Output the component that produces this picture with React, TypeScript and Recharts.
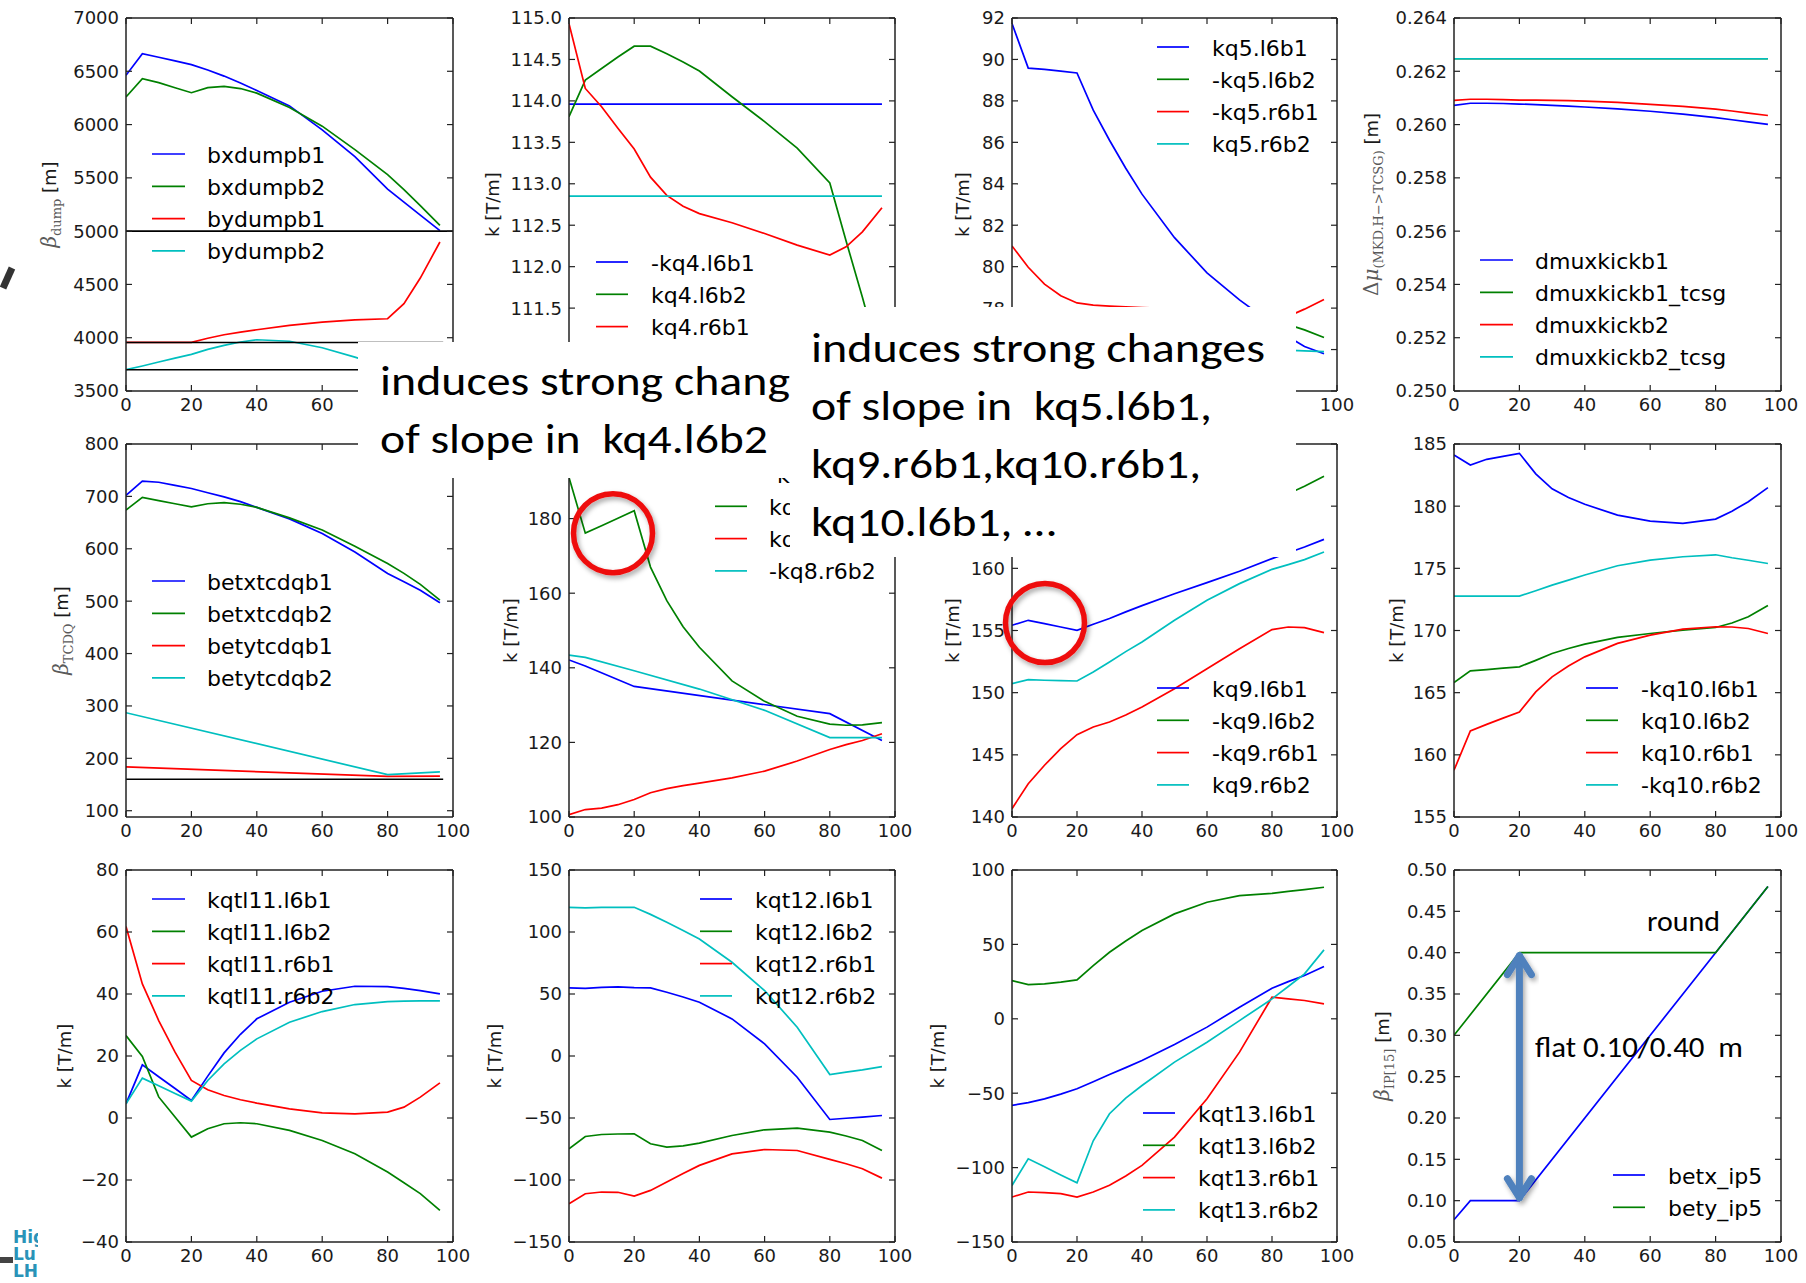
import React from "react";
import { LineChart, Line, XAxis, YAxis } from "recharts";

// ---------------- data ----------------
const X_STD = [0, 5, 10, 15, 20, 25, 30, 35, 40, 50, 60, 70, 80, 85, 90, 96];
const X_ENDS = [0, 96];
const X_FULL = [0, 100];
const X_LIM = [0, 97];
const X_KINK_20_80 = [0, 80, 96];
const X_TICKS = [0, 20, 40, 60, 80, 100];

// panel 1 : beta at dump
const bxdumpb1 = [6462, 6665, 6632, 6597, 6562, 6512, 6455, 6390, 6320, 6175, 5950, 5700, 5395, 5273, 5151, 5005];
const bxdumpb2 = [6259, 6431, 6393, 6346, 6299, 6346, 6359, 6338, 6295, 6160, 5985, 5765, 5530, 5390, 5240, 5054];
const bydumpb1 = [3957, 3957, 3957, 3957, 3957, 3995, 4028, 4052, 4075, 4116, 4147, 4168, 4178, 4320, 4560, 4898];
const bydumpb2 = [3700, 3735, 3772, 3808, 3844, 3890, 3928, 3960, 3981, 3967, 3906, 3818, 3720, 3670, 3620, 3560];
const dumpLimitX = [5000, 5000];
const dumpLimitB1 = [3955, 3955];
const dumpLimitB2 = [3700, 3700];
const dumpTicks = [3500, 4000, 4500, 5000, 5500, 6000, 6500, 7000];

// panel 2 : kq4
const kq4_l6b1 = [113.96, 113.96];
const kq4_l6b2 = [113.81, 114.25, 114.39, 114.53, 114.66, 114.66, 114.57, 114.47, 114.36, 114.05, 113.75, 113.43, 113.01, 112.31, 111.63, 110.77];
const kq4_r6b1 = [114.93, 114.15, 113.93, 113.67, 113.42, 113.08, 112.86, 112.73, 112.64, 112.53, 112.4, 112.26, 112.14, 112.24, 112.42, 112.71];
const kq4_r6b2 = [112.85, 112.85];
const kq4Ticks = [110.5, 111.0, 111.5, 112.0, 112.5, 113.0, 113.5, 114.0, 114.5, 115.0];

// panel 3 : kq5
const kq5_l6b1 = [91.73, 89.58, 89.52, 89.44, 89.35, 87.55, 86.1, 84.75, 83.5, 81.4, 79.7, 78.4, 77.26, 76.62, 76.15, 75.8];
const kq5_l6b2 = [77.6, 77.5, 77.55, 77.6, 77.6, 77.55, 77.5, 77.5, 77.45, 77.4, 77.35, 77.3, 77.25, 77.2, 76.95, 76.58];
const kq5_r6b1 = [81.0, 79.97, 79.16, 78.6, 78.25, 78.14, 78.1, 78.06, 78.03, 77.98, 77.93, 77.85, 77.55, 77.6, 77.95, 78.42];
const kq5_r6b2 = [76.3, 76.0, 75.9];
const kq5Ticks = [74, 76, 78, 80, 82, 84, 86, 88, 90, 92];

// panel 4 : phase advance
const dmuxkickb1 = [0.26072, 0.2608, 0.2608, 0.26079, 0.26077, 0.26075, 0.26072, 0.26069, 0.26066, 0.26059, 0.2605, 0.26039, 0.26026, 0.26018, 0.2601, 0.26001];
const dmuxkickb1_tcsg = [0.26247, 0.26247];
const dmuxkickb2 = [0.26091, 0.26095, 0.26095, 0.26094, 0.26092, 0.26092, 0.26091, 0.2609, 0.26088, 0.26083, 0.26076, 0.26068, 0.26058, 0.26051, 0.26043, 0.26034];
const dmuxkickb2_tcsg = [0.26247, 0.26247];
const dmuTicks = [0.25, 0.252, 0.254, 0.256, 0.258, 0.26, 0.262, 0.264];

// panel 5 : beta at TCDQ
const betxtcdqb1 = [702, 729, 727, 721, 715, 707, 699, 690, 679, 657, 629, 594, 553, 537, 521, 497];
const betxtcdqb2 = [674, 698, 692, 686, 680, 686, 688, 685, 679, 659, 636, 605, 572, 553, 532, 502];
const betytcdqb1 = [183.5, 165.5, 166];
const betytcdqb2 = [287, 169, 174];
const tcdqLimit = [160, 160];
const tcdqTicks = [100, 200, 300, 400, 500, 600, 700, 800];

// panel 6 : kq8
const X_KQ8_B1 = [0, 5, 20, 80, 96];
const kq8_l6b1 = [142.1, 140.5, 135, 127.7, 120.5];
const kq8_l6b2 = [191, 176.1, 178.1, 180.1, 182.1, 167, 158, 151, 145.5, 136.5, 131, 127, 124.9, 124.6, 124.7, 125.3];
const kq8_r6b1 = [100.6, 102, 102.4, 103.3, 104.7, 106.5, 107.6, 108.4, 109.1, 110.5, 112.3, 115.0, 118.1, 119.4, 120.5, 122.3];
const X_KQ8_B2 = [0, 5, 20, 40, 60, 80, 96];
const kq8_r6b2 = [143.4, 142.8, 139.2, 134.3, 128.6, 121.3, 121.3];
const kq8Ticks = [100, 120, 140, 160, 180, 200];

// panel 7 : kq9
const kq9_l6b1 = [155.42, 155.82, 155.55, 155.28, 155.01, 155.5, 155.97, 156.5, 157.0, 157.96, 158.85, 159.76, 160.78, 161.25, 161.72, 162.33];
const kq9_l6b2 = [163.5, 163.8, 163.7, 163.5, 163.2, 163.4, 163.6, 163.8, 164.0, 164.5, 165.0, 165.4, 165.8, 166.0, 166.6, 167.4];
const kq9_r6b1 = [140.67, 142.68, 144.16, 145.5, 146.62, 147.24, 147.64, 148.2, 148.85, 150.32, 151.93, 153.54, 155.07, 155.28, 155.23, 154.83];
const kq9_r6b2 = [150.72, 151.05, 151.0, 150.97, 150.94, 151.66, 152.47, 153.3, 154.08, 155.82, 157.43, 158.77, 159.92, 160.3, 160.7, 161.31];
const kq9Ticks = [140, 145, 150, 155, 160, 165, 170];

// panel 8 : kq10
const kq10_l6b1 = [184.11, 183.31, 183.77, 184.0, 184.25, 182.6, 181.4, 180.7, 180.15, 179.28, 178.8, 178.61, 178.96, 179.6, 180.36, 181.49];
const kq10_l6b2 = [165.82, 166.76, 166.86, 166.97, 167.08, 167.6, 168.15, 168.55, 168.9, 169.44, 169.76, 170.03, 170.24, 170.6, 171.1, 172.01];
const kq10_r6b1 = [158.76, 161.92, 162.45, 162.95, 163.45, 165.06, 166.27, 167.15, 167.88, 168.96, 169.63, 170.11, 170.3, 170.28, 170.16, 169.76];
const kq10_r6b2 = [172.77, 172.77, 172.77, 172.77, 172.77, 173.2, 173.65, 174.05, 174.46, 175.21, 175.66, 175.93, 176.09, 175.85, 175.65, 175.39];
const kq10Ticks = [155, 160, 165, 170, 175, 180, 185];

// panel 9 : kqtl11
const kqtl11_l6b1 = [4.58, 17.15, 13.3, 9.5, 5.66, 13.5, 21.0, 27.0, 32.0, 37.35, 40.9, 42.5, 42.4, 41.8, 41.1, 40.03];
const kqtl11_l6b2 = [26.6, 19.84, 6.8, 0.3, -6.16, -3.48, -1.86, -1.54, -1.86, -4.0, -7.24, -11.5, -17.44, -20.9, -24.4, -29.8];
const kqtl11_r6b1 = [61.74, 43.26, 31.44, 21.23, 12.1, 9.09, 7.27, 5.9, 4.8, 2.97, 1.68, 1.36, 1.9, 3.5, 6.73, 11.35];
const kqtl11_r6b2 = [4.58, 12.85, 10.4, 7.9, 5.44, 12.1, 17.47, 21.8, 25.53, 30.9, 34.34, 36.6, 37.56, 37.7, 37.78, 37.78];
const kqtl11Ticks = [-40, -20, 0, 20, 40, 60, 80];

// panel 10 : kqt12
const kqt12_l6b1 = [54.9, 54.6, 55.3, 55.8, 55.1, 54.9, 51.4, 47.6, 43.4, 29.9, 9.8, -17.1, -51.2, -50.2, -49.3, -48.0];
const kqt12_l6b2 = [-74.8, -64.9, -63.3, -62.9, -62.7, -70.8, -73.5, -72.5, -70.2, -64.1, -59.5, -58.2, -61.4, -64.5, -68.1, -76.2];
const kqt12_r6b1 = [-119.1, -111.1, -109.7, -109.9, -113.0, -108.4, -101.7, -94.8, -88.2, -78.9, -75.4, -76.2, -83.4, -86.9, -90.9, -98.5];
const kqt12_r6b2 = [119.9, 119.5, 119.9, 119.9, 119.9, 114.2, 107.8, 101.3, 94.4, 75.6, 52.8, 23.2, -14.9, -13.0, -11.2, -8.5];
const kqt12Ticks = [-150, -100, -50, 0, 50, 100, 150];

// panel 11 : kqt13
const kqt13_l6b1 = [-58.2, -56.3, -53.8, -50.6, -47.0, -42.3, -37.4, -32.8, -28.0, -17.3, -5.6, 7.8, 20.5, 25.0, 29.1, 35.1];
const kqt13_l6b2 = [25.7, 23.0, 23.5, 24.6, 26.1, 35.8, 44.7, 52.3, 59.3, 70.5, 78.3, 82.8, 84.3, 85.6, 86.8, 88.4];
const kqt13_r6b1 = [-119.8, -116.4, -116.8, -117.5, -119.8, -116.4, -111.9, -105.6, -98.5, -79.5, -53.8, -22.4, 14.5, 13.4, 12.3, 10.0];
const kqt13_r6b2 = [-112.0, -94.1, -99.5, -104.9, -110.2, -82.0, -63.8, -53.3, -44.8, -29.1, -15.7, -1.2, 13.4, 21.7, 30.2, 46.3];
const kqt13Ticks = [-150, -100, -50, 0, 50, 100];

// panel 12 : beta* at IP5
const X_BETX = [0, 5, 20, 80, 96];
const betx_ip5 = [0.077, 0.1, 0.1, 0.4, 0.48];
const X_BETY = [0, 20, 80, 96];
const bety_ip5 = [0.3, 0.4, 0.4, 0.48];
const ipTicks = [0.05, 0.1, 0.15, 0.2, 0.25, 0.3, 0.35, 0.4, 0.45, 0.5];

// ---------------- styling / layout ----------------
const B = "#0000ff";
const G = "#008000";
const R = "#ff0000";
const C = "#00bfbf";
const K = "#000000";

const COL_L = [126, 569, 1012, 1454];
const COL_W = [327, 326, 325, 327];
const ROW_T = [18, 444, 870];
const ROW_H = [373, 373, 372];

type Part = { t: string; math?: boolean; italic?: boolean; sub?: boolean };
type Series = { name?: string; color: string; xs: number[]; ys: number[]; hideLegend?: boolean };
type PanelCfg = {
  col: number; row: number; yMin: number; yMax: number; yTicks: number[]; dec?: number;
  label: Part[]; labelDx: number; series: Series[];
  legend: { x1: number; x2: number; tx: number; y0: number };
  xHide?: number[]; yHide?: number[];
};

const KLABEL: Part[] = [{ t: "k [T/m]" }];

const PANELS: PanelCfg[] = [
  {
    col: 0, row: 0, yMin: 3500, yMax: 7000, yTicks: dumpTicks, xHide: [80, 100],
    label: [{ t: "β", math: true, italic: true }, { t: "dump", math: true, sub: true }, { t: " [m]" }], labelDx: 76,
    legend: { x1: 152, x2: 185, tx: 207, y0: 154 },
    series: [
      { name: "bxdumpb1", color: B, xs: X_STD, ys: bxdumpb1 },
      { name: "bxdumpb2", color: G, xs: X_STD, ys: bxdumpb2 },
      { name: "bydumpb1", color: R, xs: X_STD, ys: bydumpb1 },
      { name: "bydumpb2", color: C, xs: X_STD, ys: bydumpb2 },
      { color: K, xs: X_FULL, ys: dumpLimitX },
      { color: K, xs: X_LIM, ys: dumpLimitB1 },
      { color: K, xs: X_LIM, ys: dumpLimitB2 },
    ],
  },
  {
    col: 1, row: 0, yMin: 110.5, yMax: 115, yTicks: kq4Ticks, dec: 1, label: KLABEL, labelDx: 76,
    xHide: [0, 20, 40, 60, 80, 100], yHide: [110.5],
    legend: { x1: 596, x2: 628, tx: 651, y0: 262 },
    series: [
      { name: "-kq4.l6b1", color: B, xs: X_ENDS, ys: kq4_l6b1 },
      { name: "kq4.l6b2", color: G, xs: X_STD, ys: kq4_l6b2 },
      { name: "kq4.r6b1", color: R, xs: X_STD, ys: kq4_r6b1 },
      { name: "-kq4.r6b2", color: C, xs: X_ENDS, ys: kq4_r6b2, hideLegend: true },
    ],
  },
  {
    col: 2, row: 0, yMin: 74, yMax: 92, yTicks: kq5Ticks, label: KLABEL, labelDx: 49,
    xHide: [0, 20, 40, 60, 80], yHide: [74, 76],
    legend: { x1: 1157, x2: 1189, tx: 1212, y0: 47 },
    series: [
      { name: "kq5.l6b1", color: B, xs: X_STD, ys: kq5_l6b1 },
      { name: "-kq5.l6b2", color: G, xs: X_STD, ys: kq5_l6b2 },
      { name: "-kq5.r6b1", color: R, xs: X_STD, ys: kq5_r6b1 },
      { name: "kq5.r6b2", color: C, xs: X_KINK_20_80, ys: kq5_r6b2 },
    ],
  },
  {
    col: 3, row: 0, yMin: 0.25, yMax: 0.264, yTicks: dmuTicks, dec: 3,
    label: [{ t: "Δ", math: true }, { t: "μ", math: true, italic: true }, { t: "(MKD.H−>TCSG)", math: true, sub: true }, { t: " [m]" }], labelDx: 82,
    legend: { x1: 1480, x2: 1513, tx: 1535, y0: 260 },
    series: [
      { name: "dmuxkickb1", color: B, xs: X_STD, ys: dmuxkickb1 },
      { name: "dmuxkickb1_tcsg", color: G, xs: X_ENDS, ys: dmuxkickb1_tcsg },
      { name: "dmuxkickb2", color: R, xs: X_STD, ys: dmuxkickb2 },
      { name: "dmuxkickb2_tcsg", color: C, xs: X_ENDS, ys: dmuxkickb2_tcsg },
    ],
  },
  {
    col: 0, row: 1, yMin: 88, yMax: 800, yTicks: tcdqTicks,
    label: [{ t: "β", math: true, italic: true }, { t: "TCDQ", math: true, sub: true }, { t: " [m]" }], labelDx: 64,
    legend: { x1: 152, x2: 185, tx: 207, y0: 581 },
    series: [
      { name: "betxtcdqb1", color: B, xs: X_STD, ys: betxtcdqb1 },
      { name: "betxtcdqb2", color: G, xs: X_STD, ys: betxtcdqb2 },
      { name: "betytcdqb1", color: R, xs: X_KINK_20_80, ys: betytcdqb1 },
      { name: "betytcdqb2", color: C, xs: X_KINK_20_80, ys: betytcdqb2 },
      { color: K, xs: X_LIM, ys: tcdqLimit },
    ],
  },
  {
    col: 1, row: 1, yMin: 100, yMax: 200, yTicks: kq8Ticks, label: KLABEL, labelDx: 58, yHide: [200],
    legend: { x1: 715, x2: 747, tx: 769, y0: 474 },
    series: [
      { name: "-kq8.l6b1", color: B, xs: X_KQ8_B1, ys: kq8_l6b1 },
      { name: "kq8.l6b2", color: G, xs: X_STD, ys: kq8_l6b2 },
      { name: "kq8.r6b1", color: R, xs: X_STD, ys: kq8_r6b1 },
      { name: "-kq8.r6b2", color: C, xs: X_KQ8_B2, ys: kq8_r6b2 },
    ],
  },
  {
    col: 2, row: 1, yMin: 140, yMax: 170, yTicks: kq9Ticks, label: KLABEL, labelDx: 59, yHide: [165, 170],
    legend: { x1: 1157, x2: 1189, tx: 1212, y0: 688 },
    series: [
      { name: "kq9.l6b1", color: B, xs: X_STD, ys: kq9_l6b1 },
      { name: "-kq9.l6b2", color: G, xs: X_STD, ys: kq9_l6b2 },
      { name: "-kq9.r6b1", color: R, xs: X_STD, ys: kq9_r6b1 },
      { name: "kq9.r6b2", color: C, xs: X_STD, ys: kq9_r6b2 },
    ],
  },
  {
    col: 3, row: 1, yMin: 155, yMax: 185, yTicks: kq10Ticks, label: KLABEL, labelDx: 57,
    legend: { x1: 1586, x2: 1618, tx: 1641, y0: 688 },
    series: [
      { name: "-kq10.l6b1", color: B, xs: X_STD, ys: kq10_l6b1 },
      { name: "kq10.l6b2", color: G, xs: X_STD, ys: kq10_l6b2 },
      { name: "kq10.r6b1", color: R, xs: X_STD, ys: kq10_r6b1 },
      { name: "-kq10.r6b2", color: C, xs: X_STD, ys: kq10_r6b2 },
    ],
  },
  {
    col: 0, row: 2, yMin: -40, yMax: 80, yTicks: kqtl11Ticks, label: KLABEL, labelDx: 61,
    legend: { x1: 152, x2: 185, tx: 207, y0: 899 },
    series: [
      { name: "kqtl11.l6b1", color: B, xs: X_STD, ys: kqtl11_l6b1 },
      { name: "kqtl11.l6b2", color: G, xs: X_STD, ys: kqtl11_l6b2 },
      { name: "kqtl11.r6b1", color: R, xs: X_STD, ys: kqtl11_r6b1 },
      { name: "kqtl11.r6b2", color: C, xs: X_STD, ys: kqtl11_r6b2 },
    ],
  },
  {
    col: 1, row: 2, yMin: -150, yMax: 150, yTicks: kqt12Ticks, label: KLABEL, labelDx: 74,
    legend: { x1: 700, x2: 732, tx: 755, y0: 899 },
    series: [
      { name: "kqt12.l6b1", color: B, xs: X_STD, ys: kqt12_l6b1 },
      { name: "kqt12.l6b2", color: G, xs: X_STD, ys: kqt12_l6b2 },
      { name: "kqt12.r6b1", color: R, xs: X_STD, ys: kqt12_r6b1 },
      { name: "kqt12.r6b2", color: C, xs: X_STD, ys: kqt12_r6b2 },
    ],
  },
  {
    col: 2, row: 2, yMin: -150, yMax: 100, yTicks: kqt13Ticks, label: KLABEL, labelDx: 74,
    legend: { x1: 1143, x2: 1175, tx: 1198, y0: 1113 },
    series: [
      { name: "kqt13.l6b1", color: B, xs: X_STD, ys: kqt13_l6b1 },
      { name: "kqt13.l6b2", color: G, xs: X_STD, ys: kqt13_l6b2 },
      { name: "kqt13.r6b1", color: R, xs: X_STD, ys: kqt13_r6b1 },
      { name: "kqt13.r6b2", color: C, xs: X_STD, ys: kqt13_r6b2 },
    ],
  },
  {
    col: 3, row: 2, yMin: 0.05, yMax: 0.5, yTicks: ipTicks, dec: 2,
    label: [{ t: "β", math: true, italic: true }, { t: "IP[15]", math: true, sub: true }, { t: " [m]" }], labelDx: 71,
    legend: { x1: 1613, x2: 1645, tx: 1668, y0: 1175 },
    series: [
      { name: "betx_ip5", color: B, xs: X_BETX, ys: betx_ip5 },
      { name: "bety_ip5", color: G, xs: X_BETY, ys: bety_ip5 },
    ],
  },
];

const LEG_DY = 32.3;
const TICK_FONT = { fill: "#1a1a1a", fontSize: 18, fontFamily: "'DejaVu Sans', sans-serif" };
const AX_LINE = { stroke: "#222", strokeWidth: 1.5 };
const TK_LINE = { stroke: "#222", strokeWidth: 1.2 };
const BOX_FONT = "Carlito, Calibri, Lato, 'Open Sans', sans-serif";
const M_TOP = 10;
const M_RIGHT = 28;

const zip = (xs: number[], ys: number[]) => xs.map((x, i) => ({ x, y: ys[i] }));
const geo = (p: PanelCfg) => ({ L: COL_L[p.col], W: COL_W[p.col], T: ROW_T[p.row], H: ROW_H[p.row] });
const sx = (p: PanelCfg, x: number) => { const g = geo(p); return g.L + (x / 100) * g.W; };
const sy = (p: PanelCfg, y: number) => { const g = geo(p); return g.T + ((p.yMax - y) / (p.yMax - p.yMin)) * g.H; };

function Panel({ p }: { p: PanelCfg }) {
  const { L, W, T, H } = geo(p);
  const cw = W + 120 + 10 + M_RIGHT;
  const ch = H + M_TOP + 10 + 45;
  const yFmt = (v: number) =>
    (p.yHide || []).some((h) => Math.abs(h - v) < 1e-9) ? "" : (p.dec ? v.toFixed(p.dec) : String(v)).replace("-", "\u2212");
  const xFmt = (v: number) => ((p.xHide || []).includes(v) ? "" : String(v));
  const blank = () => "";
  return (
    <div style={{ position: "absolute", left: L - 120, top: T - 10 - M_TOP, width: cw, height: ch }}>
      <LineChart width={cw} height={ch} margin={{ top: M_TOP, right: M_RIGHT, bottom: 0, left: 0 }}>
        <XAxis xAxisId="b" orientation="bottom" type="number" dataKey="x" domain={[0, 100]} ticks={X_TICKS}
          interval={0} allowDataOverflow height={45} tickSize={-6} tickMargin={13}
          axisLine={AX_LINE} tickLine={TK_LINE} tick={TICK_FONT} tickFormatter={xFmt} />
        <XAxis xAxisId="t" orientation="top" type="number" dataKey="x" domain={[0, 100]} ticks={X_TICKS}
          interval={0} allowDataOverflow height={10} tickSize={-6} tickMargin={0}
          axisLine={AX_LINE} tickLine={TK_LINE} tick={TICK_FONT} tickFormatter={blank} />
        <YAxis yAxisId="l" orientation="left" type="number" domain={[p.yMin, p.yMax]} ticks={p.yTicks}
          interval={0} allowDataOverflow width={120} tickSize={-6} tickMargin={13}
          axisLine={AX_LINE} tickLine={TK_LINE} tick={TICK_FONT} tickFormatter={yFmt} />
        <YAxis yAxisId="r" orientation="right" type="number" domain={[p.yMin, p.yMax]} ticks={p.yTicks}
          interval={0} allowDataOverflow width={10} tickSize={-6} tickMargin={0}
          axisLine={AX_LINE} tickLine={TK_LINE} tick={TICK_FONT} tickFormatter={blank} />
        {p.series.map((s, i) => (
          <Line key={i} xAxisId="b" yAxisId="l" data={zip(s.xs, s.ys)} dataKey="y" type="linear"
            stroke={s.color} strokeWidth={s.color === K ? 1.6 : 1.7} dot={false} activeDot={false}
            isAnimationActive={false} />
        ))}
      </LineChart>
    </div>
  );
}

function YLabel({ p }: { p: PanelCfg }) {
  const { L, T, H } = geo(p);
  const cx = L - p.labelDx;
  const cy = T + H / 2;
  let shifted = false;
  const parts = p.label.map((part, i) => {
    let dy = 0;
    if (part.sub && !shifted) { dy = 5; shifted = true; }
    else if (!part.sub && shifted) { dy = -5; shifted = false; }
    return (
      <tspan key={i} dy={dy || undefined}
        fontFamily={part.math ? "'DejaVu Serif', serif" : "'DejaVu Sans', sans-serif"}
        fontStyle={part.italic ? "italic" : "normal"}
        fontSize={part.sub ? 13 : part.math ? 20 : 18}
        fill={part.math ? "#5a5a5a" : "#1a1a1a"}>{part.t}</tspan>
    );
  });
  return (
    <text x={cx} y={cy + 6} transform={`rotate(-90 ${cx} ${cy})`} textAnchor="middle" style={{ whiteSpace: "pre" }}>
      {parts}
    </text>
  );
}

function Legend({ p }: { p: PanelCfg }) {
  const items = p.series.filter((s) => s.name);
  return (
    <g>
      {items.map((s, i) => {
        const y = p.legend.y0 + i * LEG_DY;
        return (
          <g key={i}>
            <line x1={p.legend.x1} x2={p.legend.x2} y1={y} y2={y} stroke={s.color} strokeWidth={1.7} />
            {!s.hideLegend && (
              <text x={p.legend.tx} y={y + 8.5} fontSize={22} fontFamily="'DejaVu Sans', sans-serif" fill="#000">{s.name}</text>
            )}
          </g>
        );
      })}
    </g>
  );
}

function BoxText({ x, y, w, size, children }: { x: number; y: number; w: number; size: number; children: string }) {
  return (
    <text x={x} y={y} fontSize={size} fontFamily={BOX_FONT} fill="#000" textLength={w}
      lengthAdjust="spacingAndGlyphs" style={{ whiteSpace: "pre" }}>{children}</text>
  );
}

export default function App() {
  const p6 = PANELS[5];
  const p7 = PANELS[6];
  const p12 = PANELS[11];
  const ax = sx(p12, 20);
  const aTop = sy(p12, 0.4);
  const aBot = sy(p12, 0.1);
  const blueA = "#4f81bd";
  return (
    <div style={{ position: "absolute", left: 0, top: 0, width: 1806, height: 1283, background: "#fff", overflow: "hidden" }}>
      {PANELS.map((p, i) => <Panel key={i} p={p} />)}

      <svg width={1806} height={1283} style={{ position: "absolute", left: 0, top: 0 }}>
        <defs>
          <filter id="shadow" x="-30%" y="-30%" width="160%" height="160%">
            <feDropShadow dx="2" dy="3" stdDeviation="2.5" floodColor="#000" floodOpacity="0.35" />
          </filter>
          <clipPath id="logoClip"><rect x={0} y={1200} width={38} height={83} /></clipPath>
        </defs>
        {PANELS.map((p, i) => <YLabel key={"l" + i} p={p} />)}
        {PANELS.map((p, i) => <Legend key={"g" + i} p={p} />)}

        {/* red circles on slope changes */}
        <circle cx={sx(p6, 13.5)} cy={sy(p6, 176.1)} r={39.5} fill="none" stroke="#ee1111" strokeWidth={5.5} filter="url(#shadow)" />
        <circle cx={sx(p7, 10.15)} cy={sy(p7, 155.6)} r={39.5} fill="none" stroke="#ee1111" strokeWidth={5.5} filter="url(#shadow)" />

        {/* double arrow in beta* panel */}
        <g filter="url(#shadow)" stroke={blueA} strokeWidth={7} fill="none" strokeLinecap="round" strokeLinejoin="round">
          <line x1={ax} x2={ax} y1={aTop + 3} y2={aBot - 3} />
          <polyline points={`${ax - 12},${aTop + 22} ${ax},${aTop + 3} ${ax + 12},${aTop + 22}`} />
          <polyline points={`${ax - 12},${aBot - 22} ${ax},${aBot - 3} ${ax + 12},${aBot - 22}`} />
        </g>
        <BoxText x={1647} y={931} w={73} size={28}>round</BoxText>
        <BoxText x={1535} y={1057} w={208} size={28}>{"flat 0.10/0.40  m"}</BoxText>

        {/* slide decorations on the left edge */}
        <line x1={12} y1={268} x2={3} y2={288} stroke="#333" strokeWidth={7} />
        <g clipPath="url(#logoClip)">
          <text x={13} y={1243} fontSize={17} fontWeight="bold" fontFamily="'DejaVu Sans', sans-serif" fill="#2a93b8">Hig</text>
          <text x={13} y={1260} fontSize={17} fontWeight="bold" fontFamily="'DejaVu Sans', sans-serif" fill="#2a93b8">Lu</text>
          <text x={13} y={1277} fontSize={17} fontWeight="bold" fontFamily="'DejaVu Sans', sans-serif" fill="#2a93b8">LH</text>
          <rect x={0} y={1257} width={13} height={6} fill="#444" />
        </g>
      </svg>

      <svg width={1806} height={1283} style={{ position: "absolute", left: 0, top: 0 }}>
        <rect x={358} y={342} width={432} height={136} fill="#fff" />
        <BoxText x={380} y={395} w={410} size={42}>induces strong chang</BoxText>
        <BoxText x={380} y={453} w={388} size={42}>{"of slope in  kq4.l6b2"}</BoxText>
        <rect x={790} y={307} width={506} height={250} fill="#fff" />
        <BoxText x={811} y={362} w={454} size={42}>induces strong changes</BoxText>
        <BoxText x={811} y={420} w={401} size={42}>{"of slope in  kq5.l6b1,"}</BoxText>
        <BoxText x={811} y={478} w={390} size={42}>kq9.r6b1,kq10.r6b1,</BoxText>
        <BoxText x={811} y={536} w={245} size={42}>kq10.l6b1, …</BoxText>
      </svg>
    </div>
  );
}
